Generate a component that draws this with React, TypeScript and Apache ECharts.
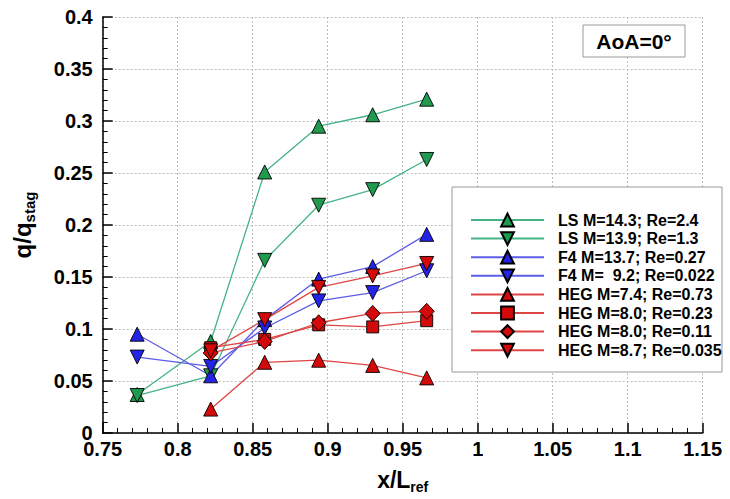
import React, { useEffect, useRef } from "react";
import * as echarts from "echarts";

const xPositions = [0.773, 0.822, 0.858, 0.894, 0.93, 0.966];
const lsM143 = [0.037, 0.088, 0.251, 0.295, 0.306, 0.321];
const lsM139 = [0.036, 0.055, 0.166, 0.219, 0.234, 0.263];
const f4M137 = [0.095, 0.055, 0.109, 0.148, 0.16, 0.191];
const f4M92 = [0.073, 0.064, 0.101, 0.127, 0.135, 0.156];
const heg74 = [null, 0.023, 0.068, 0.07, 0.065, 0.053];
const heg80a = [null, 0.082, 0.09, 0.104, 0.102, 0.108];
const heg80b = [null, 0.077, 0.088, 0.106, 0.115, 0.117];
const heg87 = [null, 0.079, 0.109, 0.14, 0.151, 0.163];

const seriesNames = [
  "LS M=14.3; Re=2.4",
  "LS M=13.9; Re=1.3",
  "F4 M=13.7; Re=0.27",
  "F4 M=  9.2; Re=0.022",
  "HEG M=7.4; Re=0.73",
  "HEG M=8.0; Re=0.23",
  "HEG M=8.0; Re=0.11",
  "HEG M=8.7; Re=0.035",
];

const xTickValues = [0.75, 0.8, 0.85, 0.9, 0.95, 1, 1.05, 1.1, 1.15];
const yTickValues = [0, 0.05, 0.1, 0.15, 0.2, 0.25, 0.3, 0.35, 0.4];

const FONT = '"Liberation Sans", Arial, Helvetica, sans-serif';
const DOWN = "path://M0,0L20,0L10,18Z";

const GREEN_FILL = "#1f9a4f";
const GREEN_LINE = "#45b385";
const BLUE_FILL = "#2424e6";
const BLUE_LINE = "#5c5ce6";
const RED_FILL = "#d40a0a";
const RED_LINE = "#e04545";

function pairs(vals: (number | null)[]) {
  const out: number[][] = [];
  vals.forEach((v, i) => {
    if (v !== null) out.push([xPositions[i], v]);
  });
  return out;
}

function mk(name: string, vals: (number | null)[], symbol: string, size: any, fill: string, line: string) {
  return {
    name,
    type: "line",
    data: pairs(vals),
    symbol,
    symbolSize: size,
    showSymbol: true,
    lineStyle: { color: line, width: 1.3 },
    itemStyle: { color: fill, borderColor: "#000", borderWidth: 0.9 },
    emphasis: { disabled: true },
  };
}

export default function App() {
  const ref = useRef<HTMLDivElement>(null);
  useEffect(() => {
    const chart = echarts.init(ref.current!, null, { renderer: "svg" });
    const fmt = (v: number) => String(parseFloat(v.toFixed(2)));
    chart.setOption({
      animation: false,
      backgroundColor: "#fff",
      grid: { left: 102.7, right: 27.3, top: 17, bottom: 65, containLabel: false },
      xAxis: {
        type: "value",
        min: xTickValues[0],
        max: xTickValues[xTickValues.length - 1],
        interval: 0.05,
        name: "{a|x/L}{b|ref}",
        nameLocation: "middle",
        nameGap: 33,
        nameTextStyle: {
          rich: {
            a: { fontSize: 23, fontWeight: "bold", fontFamily: FONT, color: "#000", lineHeight: 28 },
            b: { fontSize: 14, fontWeight: "bold", fontFamily: FONT, color: "#000", verticalAlign: "bottom", lineHeight: 14, padding: [10, 0, 0, 0] },
          },
        },
        axisLine: { show: true, onZero: false, lineStyle: { color: "#000", width: 1.5 } },
        axisTick: { show: true, inside: true, length: 10, lineStyle: { color: "#000", width: 1.5 } },
        minorTick: { show: true, splitNumber: 5, length: 5, lineStyle: { color: "#000", width: 1 } },
        axisLabel: { fontSize: 20, fontWeight: "bold", fontFamily: FONT, color: "#000", margin: 6, formatter: fmt },
        splitLine: { show: true, lineStyle: { color: "#bdbdbd", type: [2, 2], width: 1 } },
      },
      yAxis: {
        type: "value",
        min: yTickValues[0],
        max: yTickValues[yTickValues.length - 1],
        interval: 0.05,
        name: "{a|q/q}{b|stag}",
        nameLocation: "middle",
        nameGap: 66,
        nameTextStyle: {
          rich: {
            a: { fontSize: 24, fontWeight: "bold", fontFamily: FONT, color: "#000", lineHeight: 28 },
            b: { fontSize: 15, fontWeight: "bold", fontFamily: FONT, color: "#000", verticalAlign: "bottom", lineHeight: 15, padding: [10, 0, 0, 0] },
          },
        },
        axisLine: { show: true, onZero: false, lineStyle: { color: "#000", width: 1.5 } },
        axisTick: { show: true, inside: true, length: 10, lineStyle: { color: "#000", width: 1.5 } },
        minorTick: { show: true, splitNumber: 5, length: 5, lineStyle: { color: "#000", width: 1 } },
        axisLabel: { fontSize: 20, fontWeight: "bold", fontFamily: FONT, color: "#000", margin: 10, formatter: fmt },
        splitLine: { show: true, lineStyle: { color: "#bdbdbd", type: [2, 2], width: 1 } },
      },
      legend: {
        orient: "vertical",
        left: 465,
        top: 207,
        itemWidth: 73,
        itemHeight: 16,
        itemGap: 2.6,
        selectedMode: false,
        textStyle: { fontSize: 16, fontWeight: "bold", fontFamily: FONT, color: "#000", padding: [0, 0, 0, 9] },
        data: seriesNames,
        z: 6,
      },
      graphic: [
        { type: "rect", z: 3, shape: { x: 452, y: 187, width: 270, height: 185 }, style: { fill: "#fff", stroke: "#999", lineWidth: 1 } },
        { type: "rect", z: 3, shape: { x: 583, y: 25, width: 102, height: 32 }, style: { fill: "#fff", stroke: "#999", lineWidth: 1 } },
        {
          type: "text",
          z: 4,
          x: 634,
          y: 41,
          style: { text: "AoA=0°", fontSize: 21, fontWeight: "bold", fontFamily: FONT, fill: "#000", align: "center", verticalAlign: "middle" },
        },
      ],
      series: [
        mk(seriesNames[0], lsM143, "triangle", 14, GREEN_FILL, GREEN_LINE),
        mk(seriesNames[1], lsM139, DOWN, 14, GREEN_FILL, GREEN_LINE),
        mk(seriesNames[2], f4M137, "triangle", 14, BLUE_FILL, BLUE_LINE),
        mk(seriesNames[3], f4M92, DOWN, 14, BLUE_FILL, BLUE_LINE),
        mk(seriesNames[4], heg74, "triangle", 14, RED_FILL, RED_LINE),
        mk(seriesNames[5], heg80a, "rect", 12, RED_FILL, RED_LINE),
        mk(seriesNames[6], heg80b, "diamond", [15, 16], RED_FILL, RED_LINE),
        mk(seriesNames[7], heg87, DOWN, 14, RED_FILL, RED_LINE),
      ],
    });
    return () => chart.dispose();
  }, []);
  return <div ref={ref} style={{ position: "absolute", left: 0, top: 0, width: 730, height: 499 }} />;
}
